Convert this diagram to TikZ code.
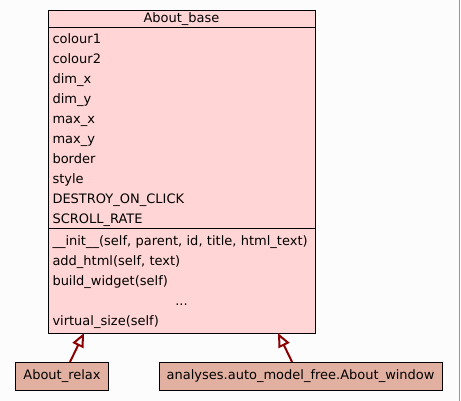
\documentclass[tikz,border=0pt]{standalone}
\usepackage{fontspec}
\setmainfont{DejaVu Sans}
\usetikzlibrary{arrows.meta,positioning,calc}
\definecolor{clspink}{HTML}{FFD5D5}
\definecolor{clssalmon}{HTML}{E2B0A1}
\definecolor{clsred}{HTML}{8B0000}
\tikzset{
  clsbox/.style={draw=black, fill=clspink, line width=1pt, outer sep=0pt,
    inner xsep=4.5pt, inner ysep=0pt, text width=258pt,
    font=\fontsize{13}{20}\selectfont},
  clssub/.style={draw=black, fill=clssalmon, line width=1pt, outer sep=0pt,
    inner xsep=7.5pt, inner ysep=0pt, minimum height=28pt,
    font=\fontsize{13}{20}\selectfont},
  clsinherit/.style={-{Triangle[open, length=14pt, width=12pt]}, line width=2pt, draw=clsred}
}
\begin{document}
\begin{tikzpicture}[x=1pt,y=-1pt]
  \useasboundingbox (0,0) rectangle (461,401);
  \fill[white!99!black] (0,0) rectangle (461,401);
  \draw[black!40, line width=1pt] (459.5,0) -- (459.5,401);
  % class box
  \node[clsbox, align=center, minimum height=17pt, anchor=north] (title) at (181.5,11) {About\_base};
  \node[clsbox, align=left, minimum height=201pt, below=0pt of title] (attr)
    {\rule{0pt}{14pt}colour1\\colour2\\dim\_x\\dim\_y\\max\_x\\max\_y\\border\\style\\DESTROY\_ON\_CLICK\\SCROLL\_RATE};
  \node[clsbox, align=left, minimum height=104pt, below=0pt of attr] (meth)
    {\rule{0pt}{12pt}\_\_init\_\_(self, parent, id, title, html\_text)\\add\_html(self, text)\\build\_widget(self)\\
     \makebox[258pt]{...}\\virtual\_size(self)};
  % subclasses
  \node[clssub] (relax) at (62,376) {About\_relax};
  \node[clssub, right=51pt of relax] (window) {analyses.auto\_model\_free.About\_window};
  \draw[clsinherit] ($(relax.north)+(8,0)$) -- ($(meth.south west)+(36,0)$);
  \draw[clsinherit] ($(window.north)+(-8.5,0)$) -- ($(meth.south west)+(230,0)$);
\end{tikzpicture}
\end{document}
